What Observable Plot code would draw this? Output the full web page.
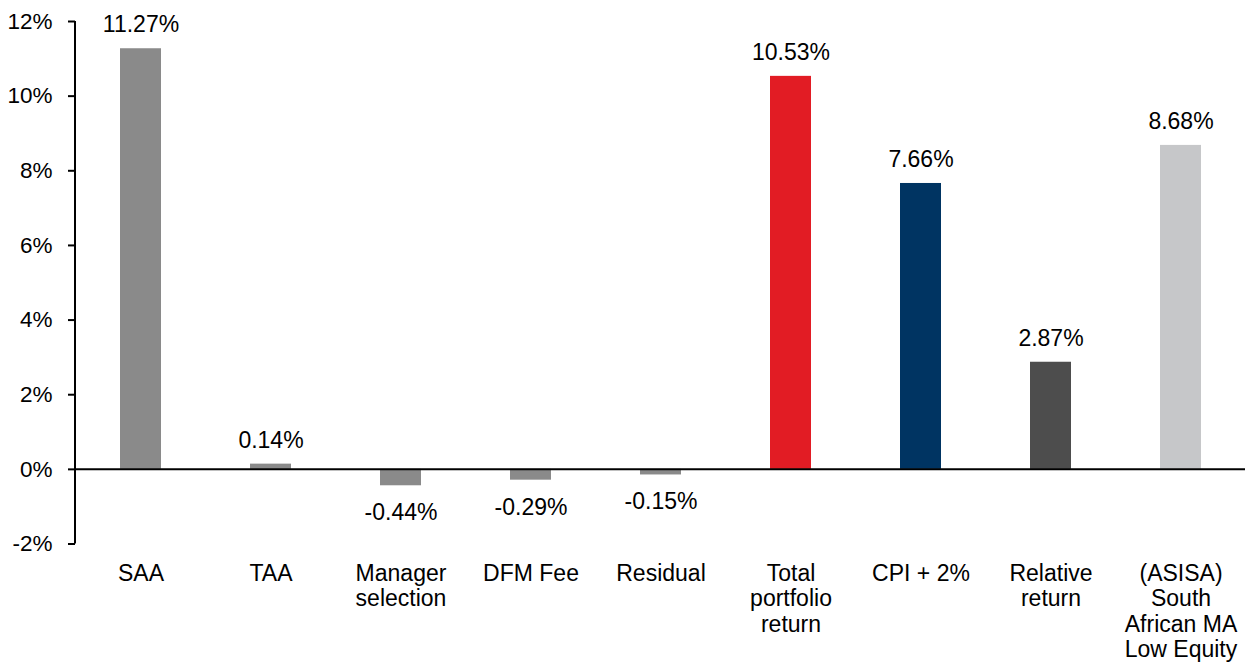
<!DOCTYPE html>
<html>
<head>
<meta charset="utf-8">
<script src="https://cdn.jsdelivr.net/npm/d3@7"></script>
<script src="https://cdn.jsdelivr.net/npm/@observablehq/plot@0.6"></script>
<style>
  html, body { margin: 0; padding: 0; background: #fff; }
  #chart svg { display: block; }
</style>
</head>
<body>
<div id="chart"></div>
<script>
// Return attribution by component (%)
const categories = [
  "SAA",
  "TAA",
  "Manager\nselection",
  "DFM Fee",
  "Residual",
  "Total\nportfolio\nreturn",
  "CPI + 2%",
  "Relative\nreturn",
  "(ASISA)\nSouth\nAfrican MA\nLow Equity"
];
const values = [11.27, 0.14, -0.44, -0.29, -0.15, 10.53, 7.66, 2.87, 8.68];
const barColors = [
  "#8a8a8a", "#8a8a8a", "#8a8a8a", "#8a8a8a", "#8a8a8a",
  "#e21c24", "#003462", "#4d4d4d", "#c6c7c9"
];
const yDomain = [-2, 12];
const yTicks = [-2, 0, 2, 4, 6, 8, 10, 12];

const rows = categories.map((c, i) => ({category: c, value: values[i], color: barColors[i]}));
const fmt = (v) => `${v.toFixed(2)}%`;

// Vertical axis line along the left edge of the frame, spanning the y domain
function axisLine(index, scales, channels, dimensions) {
  const x = dimensions.marginLeft;
  const line = document.createElementNS("http://www.w3.org/2000/svg", "line");
  line.setAttribute("x1", x);
  line.setAttribute("x2", x);
  line.setAttribute("y1", scales.y(yDomain[1]));
  line.setAttribute("y2", scales.y(yDomain[0]));
  line.setAttribute("stroke", "#000");
  line.setAttribute("stroke-width", 2);
  return line;
}

const chart = Plot.plot({
  width: 1245,
  height: 669,
  marginLeft: 75,
  marginRight: 0,
  marginTop: 21,
  marginBottom: 125.5,
  style: {fontFamily: "'Liberation Sans', Arial, sans-serif", fontSize: "23px", color: "#000", background: "#fff"},
  x: {domain: categories, paddingInner: 0.685, paddingOuter: 0.3425},
  y: {domain: yDomain},
  color: {type: "identity"},
  marks: [
    Plot.barY(rows, {x: "category", y: "value", fill: "color"}),
    Plot.ruleY([0], {stroke: "#000", strokeWidth: 2}),
    Plot.axisY({
      ticks: yTicks,
      tickFormat: (d) => `${d}%`,
      tickSize: 7,
      tickPadding: 16,
      strokeWidth: 2,
      fontSize: 22.5,
      label: null
    }),
    axisLine,
    Plot.axisX({
      tickSize: 0,
      tickPadding: 19,
      fontSize: 23,
      lineHeight: 1.1,
      label: null
    }),
    Plot.text(rows.filter((d) => d.value >= 0), {
      x: "category", y: "value", text: (d) => fmt(d.value),
      dy: -24, fontSize: 23, fill: "#000"
    }),
    Plot.text(rows.filter((d) => d.value < 0), {
      x: "category", y: "value", text: (d) => fmt(d.value),
      dy: 27, fontSize: 23, fill: "#000"
    })
  ]
});

document.getElementById("chart").appendChild(chart);
</script>
</body>
</html>
